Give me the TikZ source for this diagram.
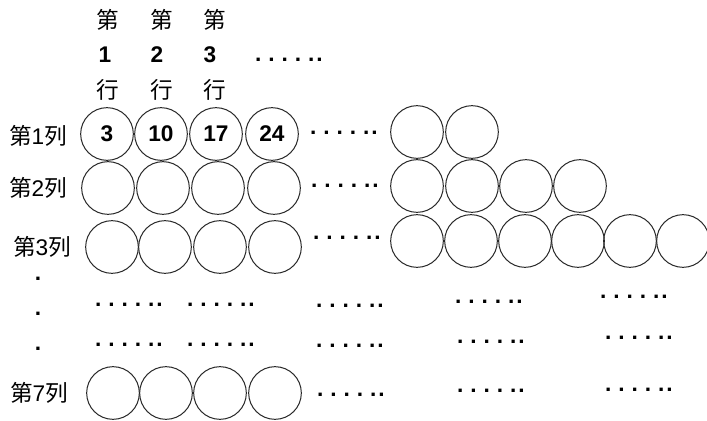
\documentclass[tikz,border=0pt]{standalone}
\usepackage{fontspec}
\setmainfont{Liberation Sans}
\newfontfamily\cjk{Noto Sans CJK SC}
\newcommand\colname[1]{{\cjk 第}#1{\cjk 列}}
\newcommand\sixdots{.\hspace{5.2pt}.\hspace{5.2pt}.\hspace{5.2pt}.\hspace{5.2pt}.\hspace{1.5pt}.}
\begin{document}
\begin{tikzpicture}[x=0.75pt,y=-0.75pt,
  every node/.style={font=\fontsize{17}{20}\selectfont, inner sep=0pt},
  ring/.style={draw=black!85, circle, minimum size=39.5pt, line width=0.75pt},
  num/.style={font=\fontsize{17}{20}\selectfont\bfseries},
  gap/.style={font=\fontsize{17}{20}\selectfont\bfseries}]
\useasboundingbox (0,0) rectangle (707,421);
% header: rows 1..3
\foreach \x/\d/\y [count=\i] in {108/1/105,162/2/157,215/3/210}{
  \node (hd\i a) at (\x,20) {\cjk 第};
  \node[num] (hd\i b) at (\y,55) {\d};
  \node (hd\i c) at (\x,90) {\cjk 行};
}
\node[gap] (hddots) at (289,60) {\sixdots};
% column labels
\node (lab1) at (38,136) {\colname{1}};
\node (lab2) at (38,188) {\colname{2}};
\node (lab3) at (42,247) {\colname{3}};
\node (lab7) at (39,393) {\colname{7}};
% column 1
\foreach \x/\t [count=\i] in {107/3,161/10,216/17,272/24}
  \node[ring,num] (a\i) at (\x,134) {\t};
\node[gap] (adots) at (344,133) {\sixdots};
\foreach \x [count=\i] in {417,472}
  \node[ring] (ar\i) at (\x,132) {};
% column 2
\foreach \x [count=\i] in {108,163,218,274}
  \node[ring] (b\i) at (\x,188) {};
\node[gap] (bdots) at (345,186) {\sixdots};
\foreach \x [count=\i] in {417,472,526,580}
  \node[ring] (br\i) at (\x,186) {};
% column 3
\foreach \x [count=\i] in {112,165,220,275}
  \node[ring] (c\i) at (\x,247) {};
\node[gap] (cdots) at (347,238) {\sixdots};
\foreach \x [count=\i] in {417,471,525,578,630,683}
  \node[ring] (cr\i) at (\x,241) {};
% vertical dots
\foreach \y [count=\i] in {279,314,349}
  \node[num] (vd\i) at (38,\y) {.};
% dotted rows
\foreach \x/\y [count=\i] in {129/305,221/305,350/306,489/302,634/297}
  \node[gap] (pa\i) at (\x,\y) {\sixdots};
\foreach \x/\y [count=\i] in {129/345,221/345,350/346,491/342,639/338}
  \node[gap] (pb\i) at (\x,\y) {\sixdots};
% column 7
\foreach \x [count=\i] in {113,166,220,275}
  \node[ring] (g\i) at (\x,393) {};
\foreach \x/\y [count=\i] in {351/395,491/391,639/390}
  \node[gap] (gd\i) at (\x,\y) {\sixdots};
\end{tikzpicture}
\end{document}
